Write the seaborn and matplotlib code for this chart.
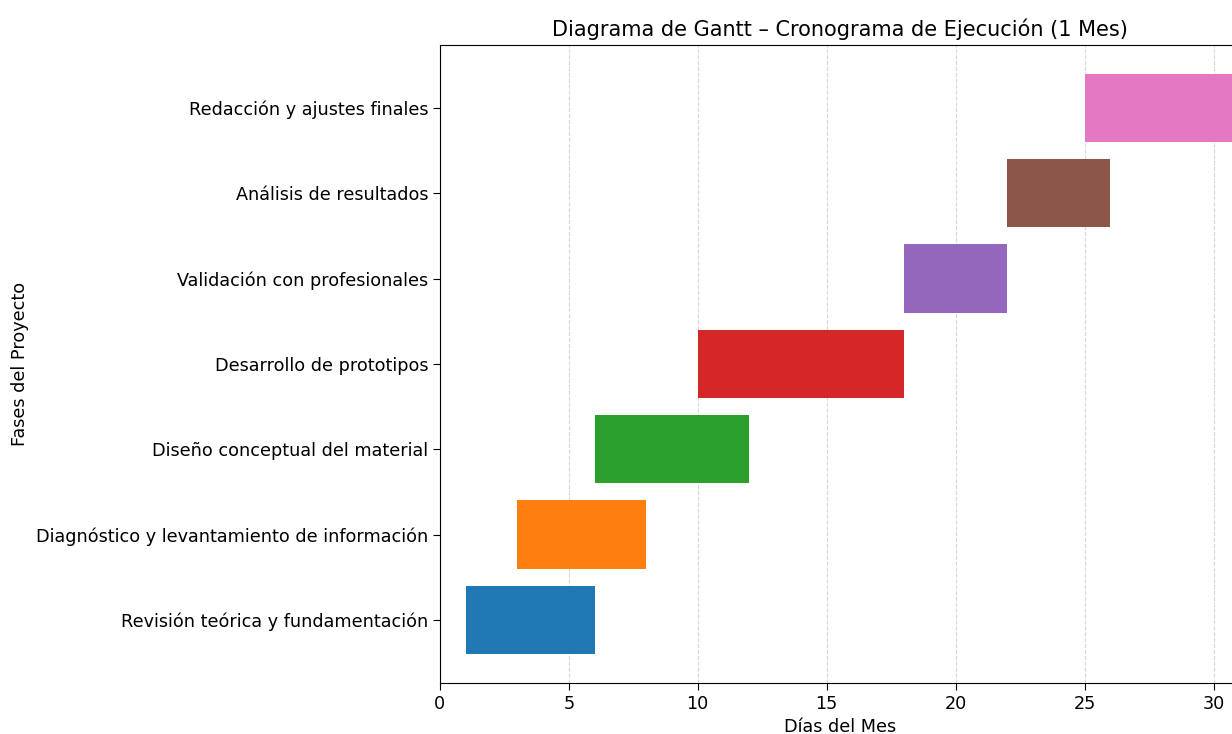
import matplotlib
matplotlib.use("Agg")
import matplotlib.pyplot as plt
import seaborn as sns

# Phases of the project (bottom to top) and their start / end days
phases = [
    "Revisión teórica y fundamentación",
    "Diagnóstico y levantamiento de información",
    "Diseño conceptual del material",
    "Desarrollo de prototipos",
    "Validación con profesionales",
    "Análisis de resultados",
    "Redacción y ajustes finales",
]
start_day = [1, 3, 6, 10, 18, 22, 25]
end_day = [6, 8, 12, 18, 22, 26, 31]
duration = [e - s for s, e in zip(start_day, end_day)]

plt.rcParams["font.family"] = ["DejaVu Sans"]
colors = sns.color_palette("tab10", len(phases))

fig = plt.figure(figsize=(12.32, 7.34), dpi=100)
ax = fig.add_axes([0.357, 0.0695, 0.649, 0.8695])

ax.barh(phases, duration, left=start_day, color=colors, height=0.8)
ax.set_xlim(0, 31)
ax.grid(axis="x", linestyle="--", alpha=0.5)
ax.set_axisbelow(True)

ax.set_title("Diagrama de Gantt – Cronograma de Ejecución (1 Mes)", fontsize=15)
ax.set_xlabel("Días del Mes", fontsize=12.7)
ax.set_ylabel("Fases del Proyecto", fontsize=12.7, labelpad=5)
ax.tick_params(labelsize=12.7, length=5)

fig.savefig("out.png", dpi=100)
